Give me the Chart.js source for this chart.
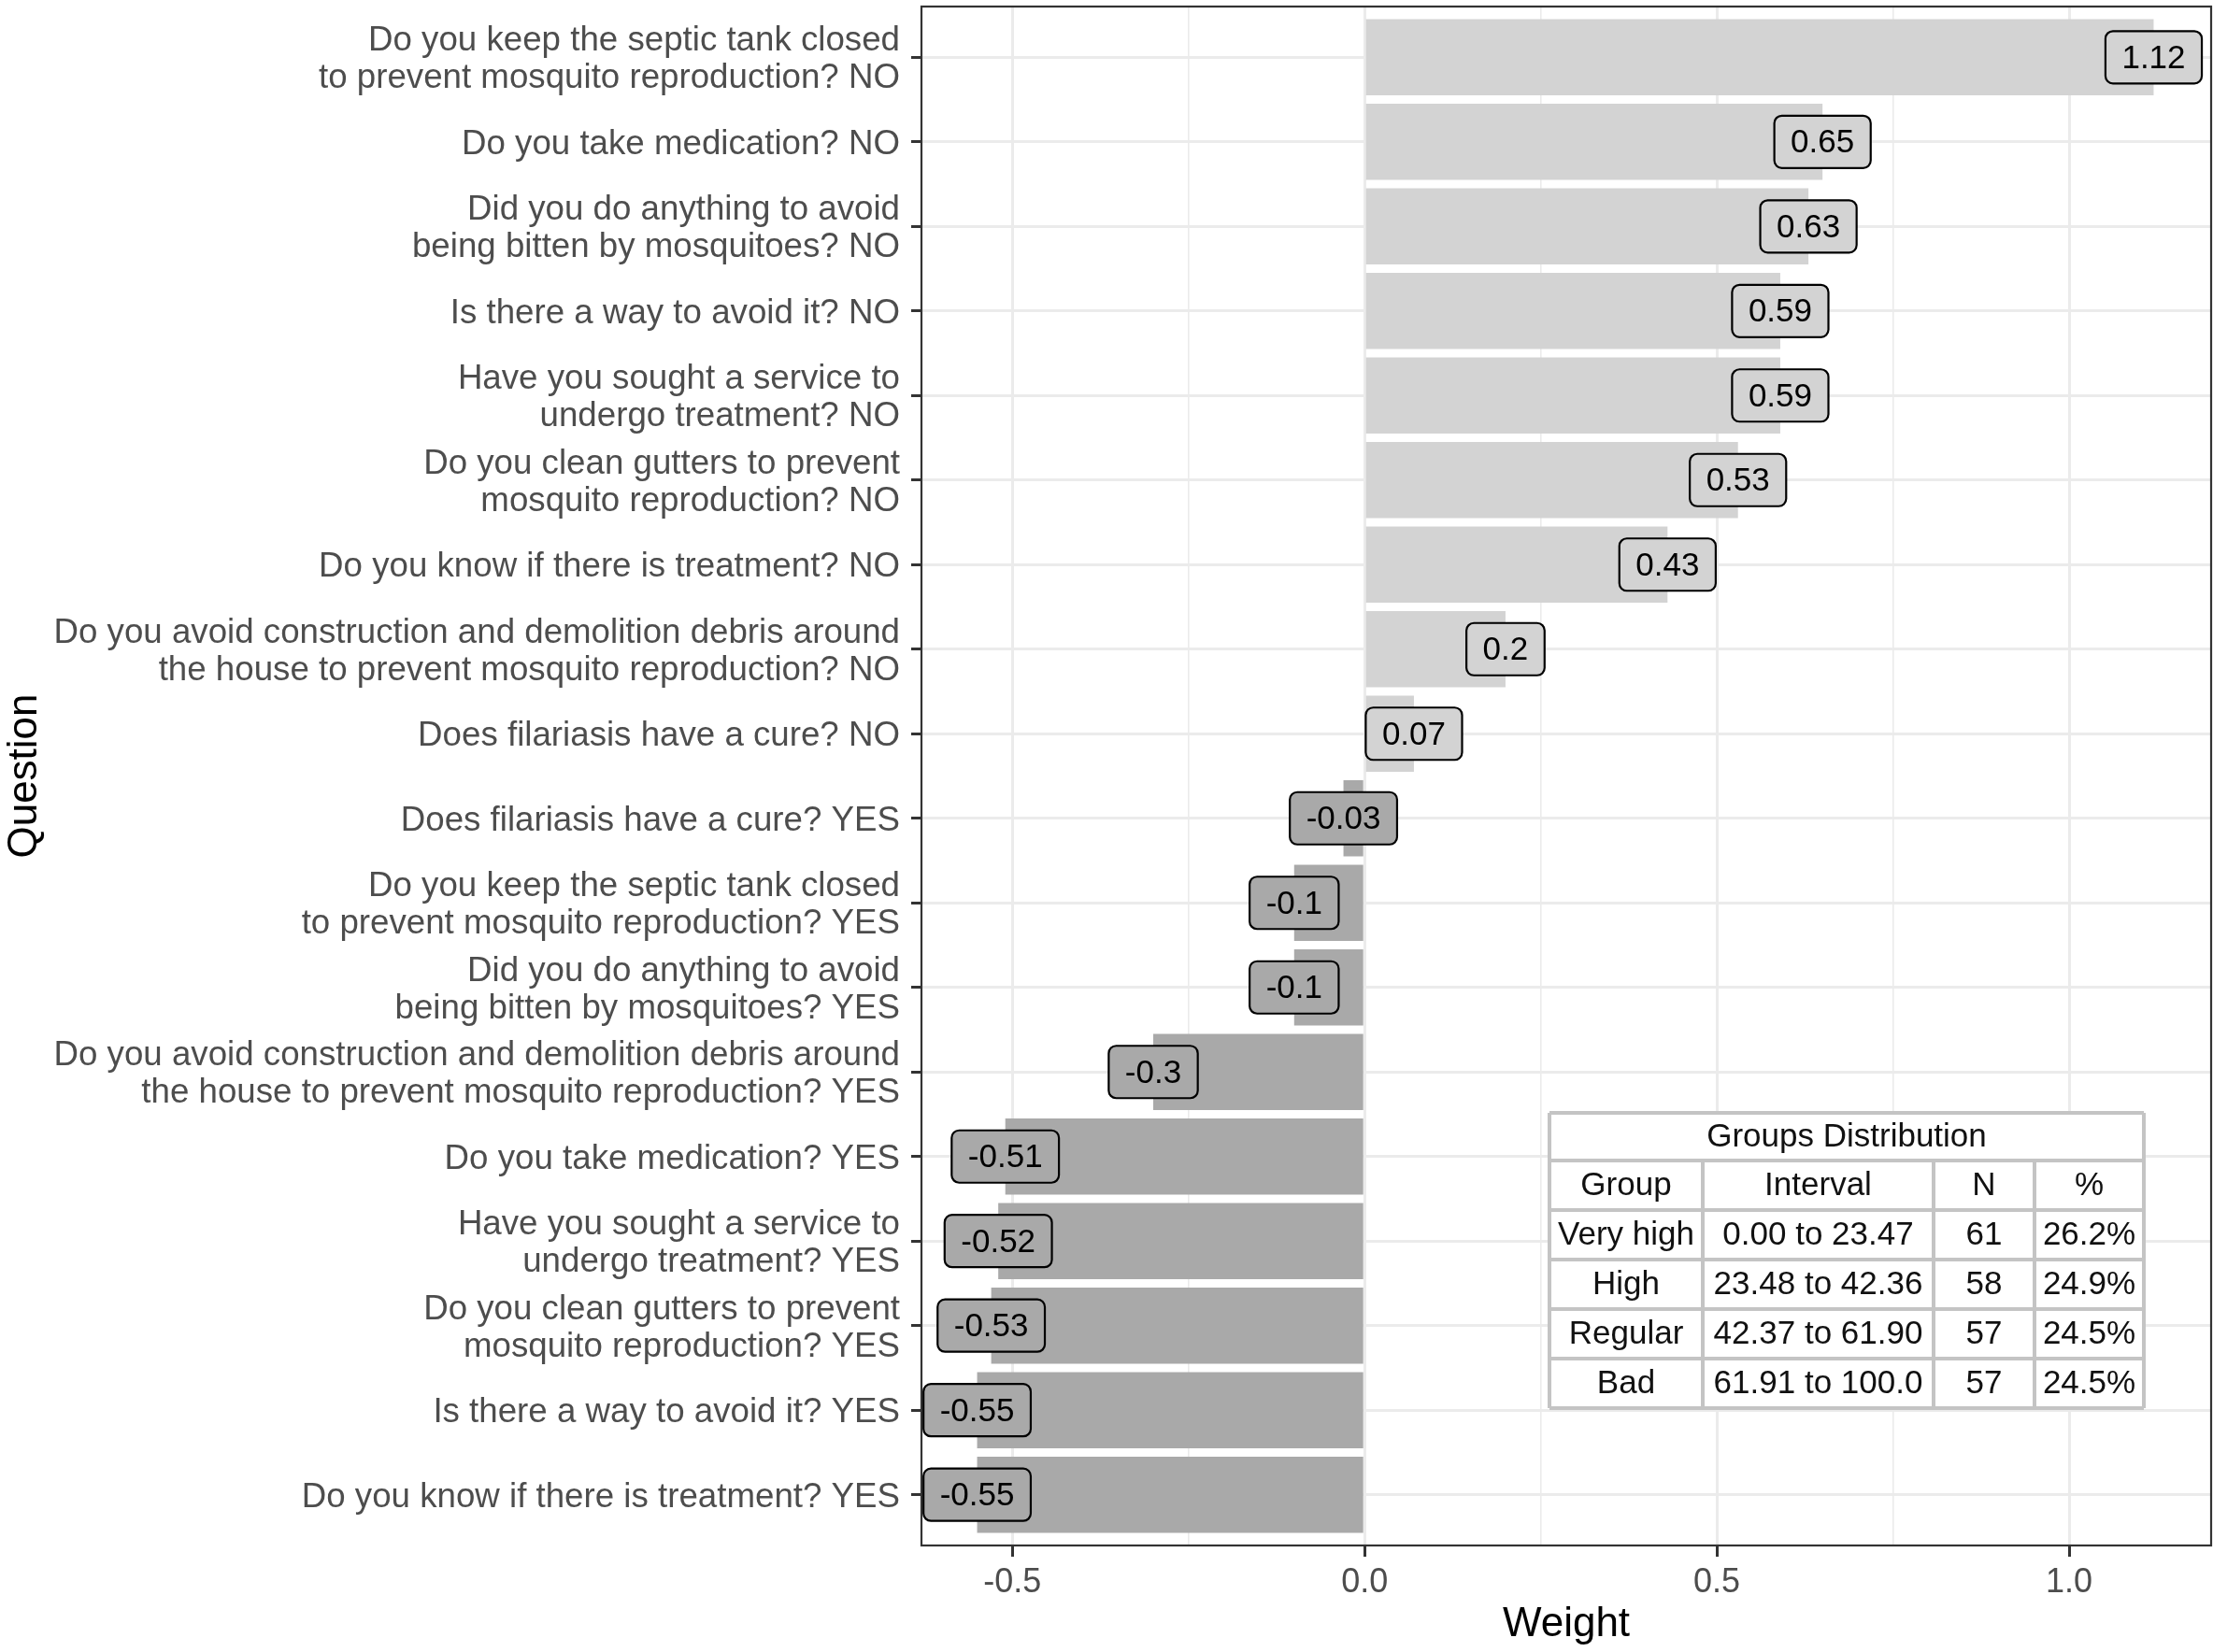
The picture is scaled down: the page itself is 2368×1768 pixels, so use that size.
<!DOCTYPE html>
<html>
<head>
<meta charset="utf-8">
<script src="https://cdn.jsdelivr.net/npm/chart.js@4.4.0/dist/chart.umd.min.js"></script>
<style>
  html, body { margin: 0; padding: 0; background: #ffffff; }
  #wrap { width: 2368px; height: 1768px; position: relative; }
</style>
</head>
<body>
<div id="wrap"><canvas id="c" width="2368" height="1768"></canvas></div>
<script>
// ---------- data ----------
const categories = [
  ["Do you keep the septic tank closed", "to prevent mosquito reproduction? NO"],
  ["Do you take medication? NO"],
  ["Did you do anything to avoid", "being bitten by mosquitoes? NO"],
  ["Is there a way to avoid it? NO"],
  ["Have you sought a service to", "undergo treatment? NO"],
  ["Do you clean gutters to prevent", "mosquito reproduction? NO"],
  ["Do you know if there is treatment? NO"],
  ["Do you avoid construction and demolition debris around", "the house to prevent mosquito reproduction? NO"],
  ["Does filariasis have a cure? NO"],
  ["Does filariasis have a cure? YES"],
  ["Do you keep the septic tank closed", "to prevent mosquito reproduction? YES"],
  ["Did you do anything to avoid", "being bitten by mosquitoes? YES"],
  ["Do you avoid construction and demolition debris around", "the house to prevent mosquito reproduction? YES"],
  ["Do you take medication? YES"],
  ["Have you sought a service to", "undergo treatment? YES"],
  ["Do you clean gutters to prevent", "mosquito reproduction? YES"],
  ["Is there a way to avoid it? YES"],
  ["Do you know if there is treatment? YES"]
];
const weights = [1.12, 0.65, 0.63, 0.59, 0.59, 0.53, 0.43, 0.2, 0.07, -0.03, -0.1, -0.1, -0.3, -0.51, -0.52, -0.53, -0.55, -0.55];
const xTickValues = [-0.5, 0.0, 0.5, 1.0];

const tableTitle = "Groups Distribution";
const tableHeader = ["Group", "Interval", "N", "%"];
const tableGroups = ["Very high", "High", "Regular", "Bad"];
const tableIntervals = ["0.00 to 23.47", "23.48 to 42.36", "42.37 to 61.90", "61.91 to 100.0"];
const tableN = ["61", "58", "57", "57"];
const tablePct = ["26.2%", "24.9%", "24.5%", "24.5%"];

// ---------- style ----------
const FONT = '"Liberation Sans", Arial, Helvetica, sans-serif';
const POS_COLOR = '#d3d3d3';
const NEG_COLOR = '#a9a9a9';
const GRID = '#ebebeb';

const isMajor = (v) => xTickValues.some(t => Math.abs(t - v) < 1e-9);

const barLabels = {
  id: 'barLabels',
  afterDatasetsDraw(chart) {
    const ctx = chart.ctx;
    const area = chart.chartArea;
    // panel border
    ctx.save();
    ctx.strokeStyle = '#333333';
    ctx.lineWidth = 2.2;
    ctx.strokeRect(area.left, area.top, area.right - area.left, area.bottom - area.top);
    ctx.restore();

    const meta = chart.getDatasetMeta(0);
    ctx.save();
    ctx.font = '35px ' + FONT;
    ctx.textAlign = 'center';
    ctx.textBaseline = 'middle';
    meta.data.forEach((bar, i) => {
      const v = weights[i];
      const txt = String(v);
      const tw = ctx.measureText(txt).width;
      const w = tw + 35, h = 56, r = 8;
      const x0 = bar.x - w / 2, y0 = bar.y - h / 2;
      ctx.beginPath();
      ctx.roundRect(x0, y0, w, h, r);
      ctx.fillStyle = v >= 0 ? POS_COLOR : NEG_COLOR;
      ctx.fill();
      ctx.lineWidth = 2.2;
      ctx.strokeStyle = '#000000';
      ctx.stroke();
      ctx.fillStyle = '#000000';
      ctx.fillText(txt, bar.x, bar.y + 2);
    });
    ctx.restore();
  },
  afterDraw(chart) {
    // inset table
    const ctx = chart.ctx;
    const left = 1658, top = 1191;
    const colW = [164, 247, 108, 117];
    const titleH = 51, rowH = 53;
    const totalW = colW.reduce((a, b) => a + b, 0);
    const totalH = titleH + rowH * (1 + tableGroups.length);
    ctx.save();
    ctx.fillStyle = '#ffffff';
    ctx.fillRect(left, top, totalW, totalH);
    ctx.strokeStyle = '#c4c4c4';
    ctx.lineWidth = 4;
    const ys = [top, top + titleH];
    for (let i = 1; i <= tableGroups.length + 1; i++) ys.push(top + titleH + rowH * i);
    ys.forEach(yy => { ctx.beginPath(); ctx.moveTo(left, yy); ctx.lineTo(left + totalW, yy); ctx.stroke(); });
    const xs = [left];
    colW.forEach(w => xs.push(xs[xs.length - 1] + w));
    xs.forEach((xx, k) => {
      ctx.beginPath();
      ctx.moveTo(xx, (k === 0 || k === xs.length - 1) ? top : top + titleH);
      ctx.lineTo(xx, top + totalH);
      ctx.stroke();
    });
    ctx.fillStyle = '#111111';
    ctx.textAlign = 'center';
    ctx.textBaseline = 'middle';
    ctx.font = '35px ' + FONT;
    ctx.fillText(tableTitle, left + totalW / 2, top + titleH / 2 + 1);
    const rows = [tableHeader].concat(tableGroups.map((g, i) => [g, tableIntervals[i], tableN[i], tablePct[i]]));
    rows.forEach((row, ri) => {
      const cy = top + titleH + rowH * ri + rowH / 2 + 1;
      row.forEach((cell, ci) => {
        const cx = (xs[ci] + xs[ci + 1]) / 2;
        ctx.fillText(cell, cx, cy);
      });
    });
    ctx.restore();
  }
};

new Chart(document.getElementById('c'), {
  type: 'bar',
  data: {
    datasets: [{
      data: weights.map((w, i) => ({ x: w, y: i })),
      backgroundColor: weights.map(w => w >= 0 ? POS_COLOR : NEG_COLOR),
      borderWidth: 0,
      barPercentage: 0.9,
      categoryPercentage: 1.0
    }]
  },
  options: {
    indexAxis: 'y',
    responsive: false,
    animation: false,
    devicePixelRatio: 1,
    layout: { padding: { top: 7, right: 2, left: 0, bottom: 0 } },
    plugins: { legend: { display: false }, tooltip: { enabled: false } },
    scales: {
      x: {
        type: 'linear',
        position: 'bottom',
        min: -0.629,
        max: 1.2016,
        afterFit: (s) => { s.height = 114; s.paddingLeft = 0; s.paddingRight = 0; },
        ticks: {
          stepSize: 0.25,
          includeBounds: false,
          autoSkip: false,
          maxRotation: 0,
          padding: 6,
          color: '#4d4d4d',
          font: { family: FONT, size: 36 },
          callback: (v) => isMajor(v) ? v.toFixed(1) : ''
        },
        grid: {
          color: GRID,
          lineWidth: (c) => (c.tick && isMajor(c.tick.value)) ? 3 : 1.6,
          tickColor: (c) => (c.tick && isMajor(c.tick.value)) ? '#333333' : 'rgba(0,0,0,0)',
          tickLength: 12,
          tickWidth: 3
        },
        border: { display: false },
        title: {
          display: true,
          text: 'Weight',
          color: '#000000',
          font: { family: FONT, size: 44 },
          padding: { top: 0, bottom: 3 }
        }
      },
      y: {
        type: 'linear',
        reverse: true,
        offset: false,
        min: -0.6,
        max: 17.6,
        afterFit: (s) => { s.width = 986; s.paddingTop = 0; s.paddingBottom = 0; },
        afterBuildTicks: (s) => { s.ticks = categories.map((c, i) => ({ value: i })); },
        ticks: {
          autoSkip: false,
          padding: 12,
          labelOffset: 3,
          color: '#4d4d4d',
          font: { family: FONT, size: 36.7, lineHeight: 1.09 },
          callback: (v) => categories[v]
        },
        grid: {
          offset: false,
          color: GRID,
          lineWidth: 3,
          tickColor: '#333333',
          tickLength: 11,
          tickWidth: 3
        },
        border: { display: false },
        title: {
          display: true,
          text: 'Question',
          color: '#000000',
          font: { family: FONT, size: 44 },
          padding: { top: 0, bottom: 0 }
        }
      }
    }
  },
  plugins: [barLabels]
});
</script>
</body>
</html>
